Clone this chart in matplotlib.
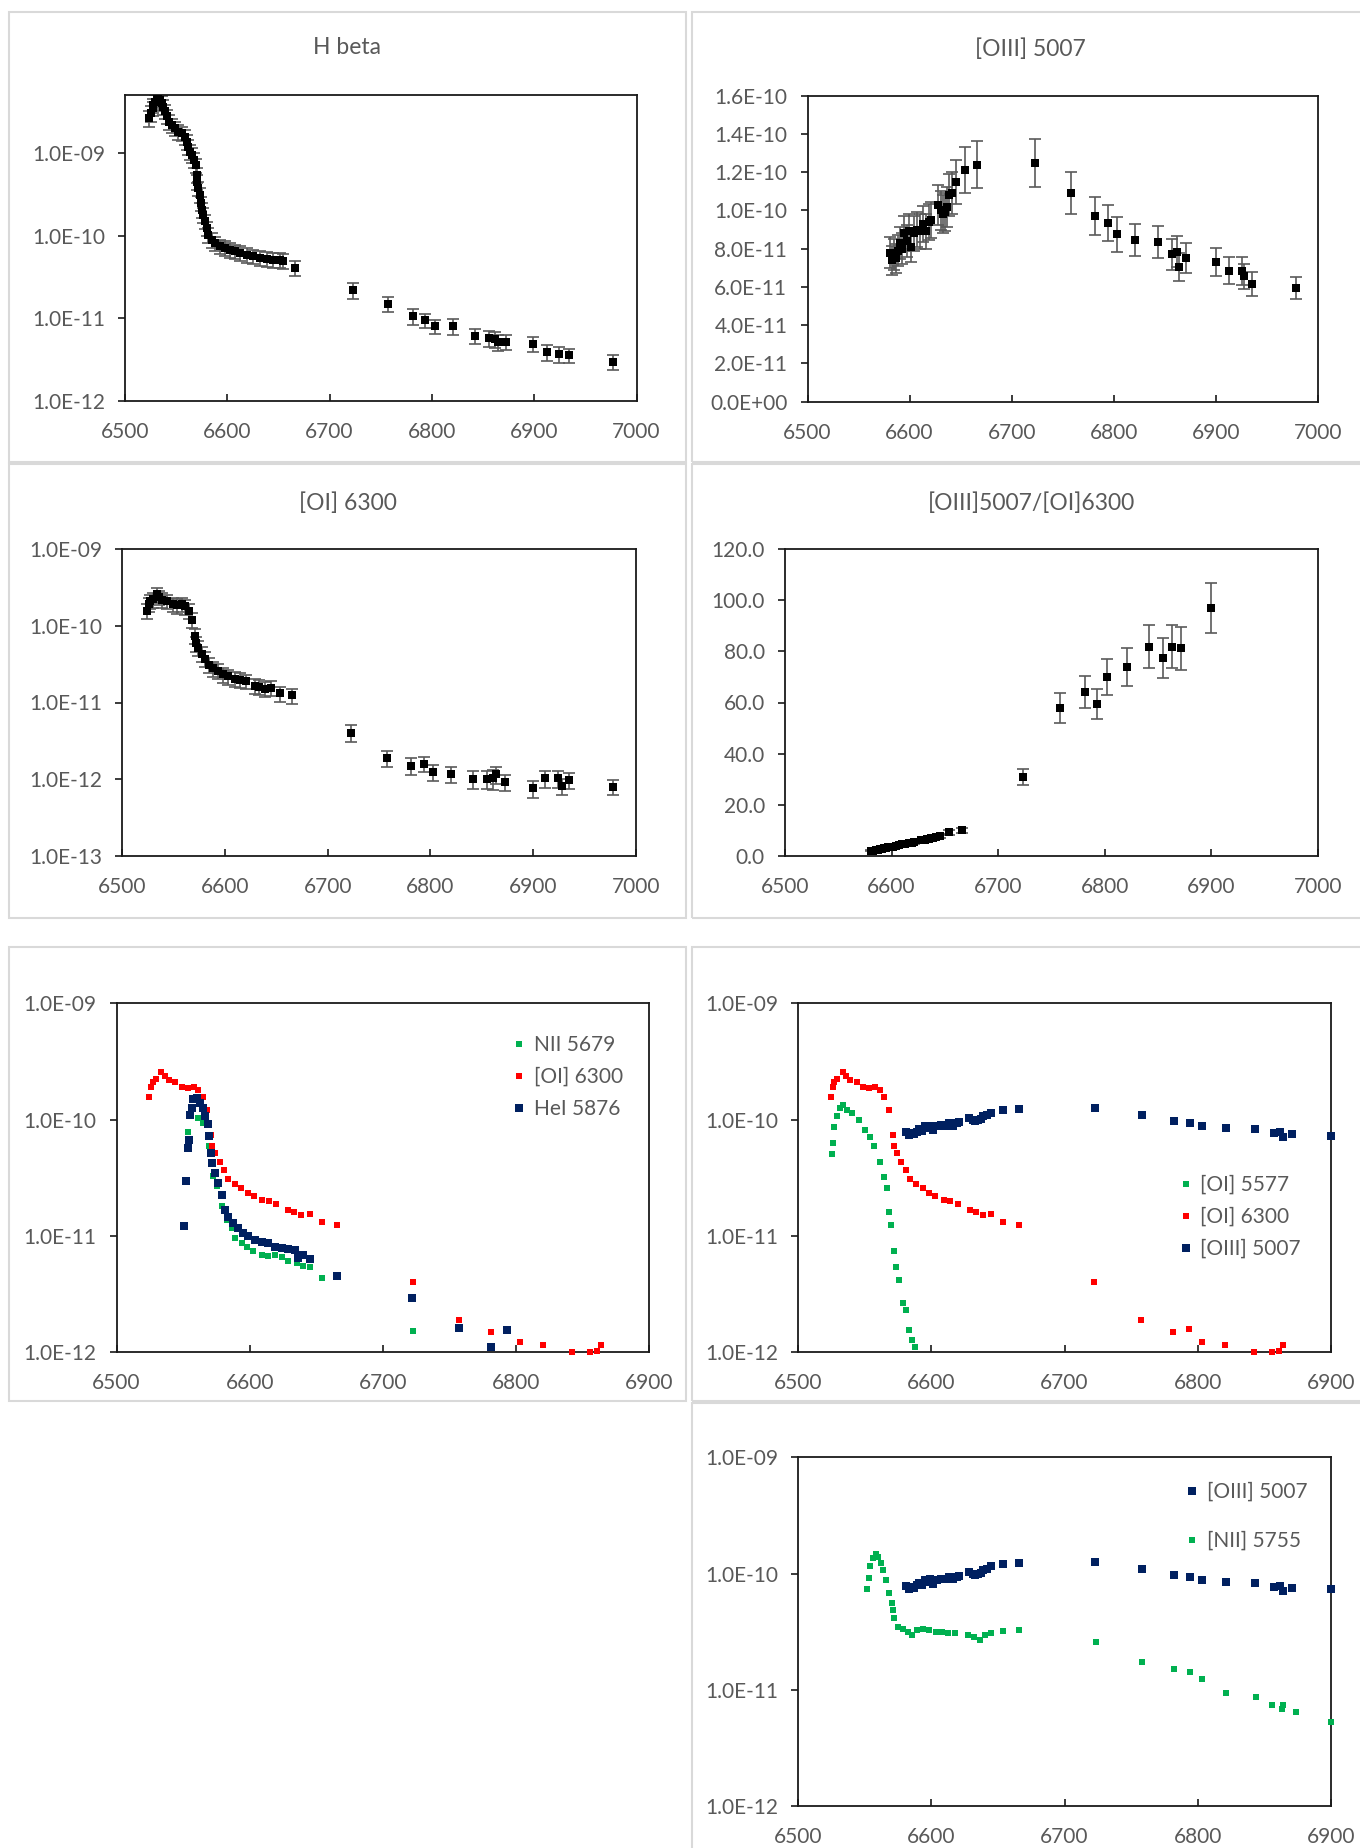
import numpy as np
import matplotlib.pyplot as plt
from matplotlib.patches import Rectangle
from matplotlib.ticker import FuncFormatter

plt.rcParams['font.family'] = ['Lato', 'DejaVu Sans']

W, H = 1360, 1848
GREY = '#595959'
GREEN, RED, NAVY = '#00b050', '#ff0000', '#002060'

# ---- H beta (flux, relative error) ----
hb_day = [6523.8, 6525.1, 6527.1, 6527.7, 6529.3, 6531.0, 6532.6, 6534.2, 6535.9, 6537.5,
          6539.1, 6540.8, 6543.4, 6545.6, 6548.9, 6552.1, 6555.4, 6558.7, 6560.3, 6561.9,
          6563.6, 6565.2, 6567.5, 6569.4, 6570.1, 6570.7, 6571.7, 6573.3, 6574.0, 6575.0,
          6576.6, 6578.2, 6579.9, 6581.5, 6584.7, 6588.0, 6592.9, 6597.8, 6602.6, 6607.5,
          6612.4, 6618.9, 6625.4, 6631.9, 6638.5, 6645.0, 6651.5, 6654.7, 6666.2,
          6722.4, 6757.3, 6781.5, 6793.1, 6803.0, 6820.3, 6841.8, 6855.6, 6861.2, 6864.2,
          6872.0, 6899.1, 6913.0, 6924.6, 6933.6, 6976.7]
hb_flux = [2.6e-9, 3.0e-9, 3.44e-9, 3.77e-9, 4.14e-9, 4.45e-9, 4.54e-9, 4.33e-9, 4.0e-9, 3.6e-9,
           3.19e-9, 2.75e-9, 2.38e-9, 2.16e-9, 1.97e-9, 1.8e-9, 1.72e-9, 1.57e-9, 1.36e-9, 1.19e-9,
           1.03e-9, 9.4e-10, 8.2e-10, 7.1e-10, 5.4e-10, 4.5e-10, 3.73e-10, 3.1e-10, 2.47e-10, 2.05e-10,
           1.78e-10, 1.48e-10, 1.23e-10, 1.02e-10, 8.9e-11, 8.1e-11, 7.4e-11, 7.1e-11, 6.75e-11, 6.45e-11,
           6.15e-11, 5.87e-11, 5.6e-11, 5.36e-11, 5.26e-11, 5.11e-11, 5.11e-11, 4.98e-11, 4.06e-11,
           2.18e-11, 1.5e-11, 1.06e-11, 9.5e-12, 8.0e-12, 8.0e-12, 6.1e-12, 5.8e-12, 5.6e-12, 5.15e-12,
           5.2e-12, 4.9e-12, 3.94e-12, 3.72e-12, 3.56e-12, 2.98e-12]
hb_rel = [0.22, 0.22, 0.2, 0.2, 0.2, 0.2, 0.2, 0.2, 0.2, 0.2,
          0.2, 0.2, 0.2, 0.2, 0.2, 0.2, 0.2, 0.2, 0.2, 0.2,
          0.2, 0.2, 0.2, 0.2, 0.2, 0.2, 0.2, 0.2, 0.2, 0.2,
          0.2, 0.2, 0.2, 0.2, 0.2, 0.2, 0.2, 0.2, 0.2, 0.2,
          0.2, 0.2, 0.2, 0.2, 0.2, 0.2, 0.2, 0.2, 0.2,
          0.21, 0.2, 0.22, 0.2, 0.2, 0.22, 0.2, 0.22, 0.22, 0.22,
          0.2, 0.21, 0.22, 0.22, 0.2, 0.2]

# ---- [OI] 6300 ----
oi_day = [6524.5, 6526.0, 6527.0, 6529.5, 6533.6, 6536.0, 6539.0, 6544.0, 6549.0, 6553.5,
          6558.0, 6561.5, 6564.7, 6568.0, 6571.0, 6572.0, 6574.0, 6577.5, 6580.8, 6584.0,
          6588.8, 6593.6, 6598.4, 6603.0, 6609.6, 6614.4, 6620.0, 6628.8, 6633.6, 6638.5,
          6645.0, 6654.0, 6665.7, 6722.5, 6757.5, 6781.5, 6793.4, 6803.0, 6820.3, 6842.0,
          6855.5, 6860.7, 6864.2, 6872.5, 6900.0, 6912.0, 6924.2, 6928.0, 6935.0, 6977.5]
oi_flux = [1.58e-10, 1.92e-10, 2.1e-10, 2.22e-10, 2.58e-10, 2.37e-10, 2.2e-10, 2.1e-10, 1.92e-10, 1.86e-10,
           1.92e-10, 1.8e-10, 1.58e-10, 1.2e-10, 7.4e-11, 5.9e-11, 5.2e-11, 4.35e-11, 3.7e-11, 3.1e-11,
           2.8e-11, 2.57e-11, 2.33e-11, 2.2e-11, 2.04e-11, 1.98e-11, 1.9e-11, 1.66e-11, 1.6e-11, 1.5e-11,
           1.55e-11, 1.32e-11, 1.24e-11, 4.05e-12, 1.9e-12, 1.5e-12, 1.58e-12, 1.23e-12, 1.16e-12, 1.01e-12,
           1.0e-12, 1.02e-12, 1.15e-12, 9.1e-13, 7.6e-13, 1.02e-12, 1.02e-12, 8.1e-13, 9.7e-13, 7.9e-13]
oi_rel = [0.22, 0.22, 0.22, 0.22, 0.22, 0.22, 0.22, 0.22, 0.22, 0.22,
          0.22, 0.22, 0.22, 0.22, 0.22, 0.22, 0.22, 0.22, 0.22, 0.22,
          0.22, 0.22, 0.22, 0.22, 0.22, 0.22, 0.22, 0.22, 0.22, 0.22,
          0.22, 0.22, 0.22, 0.24, 0.24, 0.24, 0.22, 0.24, 0.24, 0.26,
          0.26, 0.3, 0.26, 0.24, 0.26, 0.24, 0.24, 0.24, 0.24, 0.22]

# ---- [OIII] 5007 (units of 1e-11) ----
oiii_day = [6581, 6583, 6585, 6587, 6589, 6591, 6593, 6595, 6597, 6599,
            6601, 6604, 6607, 6610, 6613, 6616, 6619, 6621, 6628, 6631,
            6633, 6635, 6637, 6639, 6642, 6645, 6654, 6666,
            6723, 6758, 6782, 6794, 6803, 6821, 6843, 6857, 6862, 6864,
            6871, 6900, 6913, 6926, 6928, 6935, 6978]
oiii_val = [7.8, 7.4, 7.7, 7.5, 7.9, 8.3, 8.0, 8.8, 8.4, 8.9,
            8.1, 8.8, 9.0, 8.9, 9.3, 8.9, 9.4, 9.5, 10.3, 10.0,
            9.8, 9.9, 10.2, 10.8, 10.9, 11.5, 12.1, 12.4,
            12.5, 10.9, 9.7, 9.35, 8.75, 8.45, 8.35, 7.7, 7.85, 7.05,
            7.5, 7.3, 6.85, 6.85, 6.55, 6.15, 5.95]
oiii_err = [0.8, 0.75, 0.8, 0.75, 0.8, 0.85, 0.8, 0.9, 0.85, 0.9,
            0.8, 0.9, 0.9, 0.9, 0.95, 0.9, 0.95, 0.95, 1.05, 1.0,
            1.0, 1.0, 1.05, 1.1, 1.1, 1.15, 1.2, 1.25,
            1.25, 1.1, 0.99, 0.94, 0.9, 0.85, 0.83, 0.79, 0.81, 0.72,
            0.78, 0.74, 0.7, 0.74, 0.65, 0.63, 0.57]
oiii_flux = np.array(oiii_val) * 1e-11
oiii_err = np.array(oiii_err) * 1e-11

# ---- [OIII]5007/[OI]6300 ratio ----
ratio_day = [6581, 6583, 6585, 6587, 6589, 6591, 6593, 6595, 6597, 6599,
             6601, 6604, 6607, 6610, 6613, 6616, 6619, 6621, 6628, 6631,
             6633, 6635, 6637, 6639, 6642, 6645, 6654, 6666,
             6723.6, 6757.6, 6781.7, 6792.9, 6802.5, 6820.5, 6841.7, 6854.6, 6862.6, 6871.8, 6899.8]
ratio_val = [1.9, 2.0, 2.2, 2.4, 2.6, 2.8, 3.0, 3.2, 3.3, 3.5,
             3.6, 3.9, 4.2, 4.4, 4.6, 4.8, 5.0, 5.2, 6.0, 6.3,
             6.5, 6.6, 6.8, 7.0, 7.3, 7.6, 9.2, 9.9,
             30.9, 57.7, 64.0, 59.4, 70.1, 74.0, 81.9, 77.3, 81.9, 81.2, 96.9]
ratio_err = [0.2, 0.2, 0.2, 0.25, 0.25, 0.3, 0.3, 0.3, 0.3, 0.35,
             0.35, 0.4, 0.4, 0.45, 0.45, 0.5, 0.5, 0.5, 0.6, 0.6,
             0.65, 0.65, 0.7, 0.7, 0.75, 0.75, 0.9, 1.0,
             3.2, 5.9, 6.2, 5.8, 7.0, 7.5, 8.3, 7.8, 8.3, 8.3, 9.8]

# ---- HeI 5876 ----
hei_day = [6550.9, 6551.9, 6553.9, 6554.2, 6555.2, 6556.5, 6557.6, 6560.2, 6562.7, 6565.2,
           6566.5, 6568.4, 6569.4, 6570.9, 6571.9, 6573.9, 6576.4, 6579.0, 6581.5, 6584.0,
           6587.8, 6591.5, 6595.3, 6599.0, 6604.0, 6609.0, 6614.0, 6619.0, 6624.0, 6629.0,
           6634.0, 6636.5, 6640.3, 6645.3, 6665.3, 6722.1, 6756.9, 6781.0, 6793.2]
hei_flux = [1.21e-11, 2.94e-11, 5.7e-11, 6.7e-11, 1.1e-10, 1.26e-10, 1.49e-10, 1.54e-10, 1.39e-10, 1.26e-10,
            1.07e-10, 9.1e-11, 7.2e-11, 5.2e-11, 4.25e-11, 3.48e-11, 2.86e-11, 2.27e-11, 1.68e-11, 1.47e-11,
            1.29e-11, 1.17e-11, 1.06e-11, 9.9e-12, 9.3e-12, 8.8e-12, 8.7e-12, 8.1e-12, 7.9e-12, 7.7e-12,
            7.6e-12, 6.5e-12, 6.9e-12, 6.3e-12, 4.5e-12, 2.91e-12, 1.63e-12, 1.12e-12, 1.56e-12]

# ---- NII 5679 ----
nii_day = [6553.4, 6561.4, 6565.2, 6569.4, 6571.4, 6572.7, 6575.2, 6579.0, 6582.7, 6586.5,
           6589.0, 6594.0, 6597.8, 6602.8, 6609.0, 6614.0, 6619.0, 6624.0, 6629.0, 6635.3,
           6640.3, 6645.3, 6654.1, 6722.5]
nii_flux = [7.9e-11, 1.03e-10, 9.4e-11, 5.9e-11, 4.25e-11, 3.26e-11, 2.67e-11, 1.8e-11, 1.38e-11, 1.17e-11,
            9.6e-12, 8.7e-12, 8.1e-12, 7.4e-12, 6.9e-12, 6.7e-12, 6.9e-12, 6.6e-12, 6.05e-12, 5.8e-12,
            5.5e-12, 5.4e-12, 4.35e-12, 1.51e-12]

# ---- [OI] 5577 ----
oi5577_day = [6525.2, 6526.0, 6527.0, 6529.5, 6531.7, 6534.0, 6537.0, 6540.7, 6545.5, 6550.0,
              6554.0, 6557.0, 6561.5, 6564.7, 6567.0, 6568.0, 6569.6, 6572.0, 6573.7, 6576.0,
              6579.0, 6580.8, 6583.0, 6585.6, 6588.0]
oi5577_flux = [5.1e-11, 6.3e-11, 8.7e-11, 1.07e-10, 1.25e-10, 1.34e-10, 1.2e-10, 1.13e-10, 1.0e-10, 8.1e-11,
               7.1e-11, 5.9e-11, 4.35e-11, 3.2e-11, 2.6e-11, 1.62e-11, 1.24e-11, 7.4e-12, 5.45e-12, 4.2e-12,
               2.65e-12, 2.3e-12, 1.56e-12, 1.28e-12, 1.1e-12]

# ---- [NII] 5755 ----
nii5755_day = [6552.0, 6553.0, 6554.2, 6556.1, 6558.4, 6560.0, 6562.5, 6563.8, 6566.4, 6568.0,
               6570.2, 6571.5, 6572.2, 6575.4, 6578.6, 6582.4, 6585.6, 6589.5, 6593.6, 6598.5,
               6603.3, 6608.0, 6612.9, 6617.7, 6627.3, 6632.1, 6636.9, 6640.2, 6645.0, 6654.0,
               6665.8, 6723.5, 6757.9, 6781.9, 6794.1, 6803.1, 6821.4, 6843.8, 6855.7, 6863.1,
               6864.0, 6873.6, 6900.0]
nii5755_flux = [7.3e-11, 9.1e-11, 1.15e-10, 1.35e-10, 1.47e-10, 1.4e-10, 1.22e-10, 1.07e-10, 8.8e-11, 6.86e-11,
                5.55e-11, 4.86e-11, 4.12e-11, 3.49e-11, 3.31e-11, 3.16e-11, 2.96e-11, 3.27e-11, 3.31e-11, 3.27e-11,
                3.16e-11, 3.16e-11, 3.1e-11, 3.07e-11, 2.96e-11, 2.86e-11, 2.68e-11, 2.96e-11, 3.07e-11, 3.21e-11,
                3.27e-11, 2.6e-11, 1.75e-11, 1.5e-11, 1.43e-11, 1.23e-11, 9.3e-12, 8.6e-12, 7.4e-12, 6.8e-12,
                7.4e-12, 6.5e-12, 5.3e-12]

fig = plt.figure(figsize=(W / 100, H / 100), dpi=100)


def frame(l, t, r, b):
    fig.add_artist(Rectangle((l / W, 1 - b / H), (r - l) / W, (b - t) / H,
                             transform=fig.transFigure, fill=False,
                             ec='#d9d9d9', lw=1.5))


def add_ax(l, t, r, b):
    return fig.add_axes([l / W, 1 - b / H, (r - l) / W, (b - t) / H])


def style(ax, xmax, yfmt):
    ax.set_xlim(6500, xmax)
    ax.set_xticks(np.arange(6500, xmax + 1, 100))
    for s in ax.spines.values():
        s.set_linewidth(1.3)
        s.set_color('#1a1a1a')
    ax.tick_params(axis='y', direction='out', length=5, width=1.2, pad=9.5,
                   labelsize=15, labelcolor=GREY, color='#1a1a1a')
    ax.tick_params(axis='x', direction='in', length=5, width=1.2, pad=15,
                   labelsize=15, labelcolor=GREY, color='#1a1a1a')
    ax.tick_params(which='minor', left=False, bottom=False)
    ax.yaxis.set_major_formatter(FuncFormatter(yfmt))


sci = lambda v, _: f'{v:.1E}'
one = lambda v, _: f'{v:.1f}'


def err_plot(ax, x, y, yerr):
    ax.errorbar(x, y, yerr=yerr, fmt='none', ecolor='#5a5a5a', elinewidth=1.2,
                capsize=4.5, capthick=1.2, zorder=2)
    ax.plot(x, y, 's', color='black', ms=5.6, mew=0, zorder=3)


def dots(ax, x, y, color, ms, label):
    x, y = np.asarray(x), np.asarray(y)
    x0, x1 = ax.get_xlim()
    y0, y1 = ax.get_ylim()
    keep = (x >= x0) & (x <= x1) & (y >= y0 * 0.995) & (y <= y1)
    ax.plot(x[keep], y[keep], 's', color=color, ms=ms, mew=0, ls='none',
            clip_on=False, label=label, zorder=3)


def legend(ax, mx, ty, spacing):
    ax.legend(loc='upper left', bbox_to_anchor=(mx / W, 1 - ty / H),
              bbox_transform=fig.transFigure, frameon=False, fontsize=15,
              labelcolor=GREY, handlelength=0.7, handletextpad=0.36,
              labelspacing=spacing, borderpad=0, borderaxespad=0, numpoints=1)


def title(x, y, s):
    fig.text(x / W, 1 - y / H, s, ha='center', va='center', fontsize=16.5, color=GREY)


# panel frames
frame(9, 12, 686, 462)
frame(692, 12, 1366, 462)
frame(9, 464, 686, 918)
frame(692, 464, 1366, 918)
frame(9, 947, 686, 1401)
frame(692, 947, 1366, 1401)
frame(692, 1403, 1366, 1860)

# H beta
ax = add_ax(125, 95, 636.5, 401)
ax.set_yscale('log')
ax.set_ylim(1e-12, 5e-9)
ax.set_yticks([1e-12, 1e-11, 1e-10, 1e-9])
style(ax, 7000, sci)
err_plot(ax, hb_day, hb_flux, np.array(hb_flux) * np.array(hb_rel))
title(347, 48, 'H beta')

# [OIII] 5007
ax = add_ax(807.5, 95.7, 1318, 401.7)
ax.set_ylim(0, 1.6e-10)
ax.set_yticks(np.arange(0, 1.61e-10, 2e-11))
style(ax, 7000, sci)
err_plot(ax, oiii_day, oiii_flux, oiii_err)
title(1030, 49, '[OIII] 5007')

# [OI] 6300
ax = add_ax(122.3, 549.3, 635.7, 855.7)
ax.set_yscale('log')
ax.set_ylim(1e-13, 1e-9)
ax.set_yticks([1e-13, 1e-12, 1e-11, 1e-10, 1e-9])
style(ax, 7000, sci)
err_plot(ax, oi_day, oi_flux, np.array(oi_flux) * np.array(oi_rel))
title(348, 503, '[OI] 6300')

# ratio
ax = add_ax(785, 549.3, 1318, 855.7)
ax.set_ylim(0, 120)
ax.set_yticks(np.arange(0, 121, 20))
style(ax, 7000, one)
err_plot(ax, ratio_day, ratio_val, ratio_err)
title(1031, 503, '[OIII]5007/[OI]6300')

# NII 5679 / [OI] 6300 / HeI 5876
ax = add_ax(116.6, 1003.3, 649, 1352.3)
ax.set_yscale('log')
ax.set_ylim(1e-12, 1e-9)
ax.set_yticks([1e-12, 1e-11, 1e-10, 1e-9])
style(ax, 6900, sci)
dots(ax, nii_day, nii_flux, GREEN, 4.6, 'NII 5679')
dots(ax, oi_day, oi_flux, RED, 4.6, '[OI] 6300')
dots(ax, hei_day, hei_flux, NAVY, 6.0, 'HeI 5876')
legend(ax, 511.7, 1035, 0.58)

# [OI] 5577 / [OI] 6300 / [OIII] 5007
ax = add_ax(798, 1003.3, 1331, 1352.3)
ax.set_yscale('log')
ax.set_ylim(1e-12, 1e-9)
ax.set_yticks([1e-12, 1e-11, 1e-10, 1e-9])
style(ax, 6900, sci)
dots(ax, oi5577_day, oi5577_flux, GREEN, 4.6, '[OI] 5577')
dots(ax, oi_day, oi_flux, RED, 4.6, '[OI] 6300')
dots(ax, oiii_day, oiii_flux, NAVY, 6.0, '[OIII] 5007')
legend(ax, 1178.4, 1175, 0.58)

# [OIII] 5007 / [NII] 5755
ax = add_ax(798, 1457.3, 1331, 1806)
ax.set_yscale('log')
ax.set_ylim(1e-12, 1e-9)
ax.set_yticks([1e-12, 1e-11, 1e-10, 1e-9])
style(ax, 6900, sci)
dots(ax, oiii_day, oiii_flux, NAVY, 6.0, '[OIII] 5007')
dots(ax, nii5755_day, nii5755_flux, GREEN, 4.7, '[NII] 5755')
legend(ax, 1184.7, 1482, 1.39)

fig.savefig('out.png', dpi=100, facecolor='white')
